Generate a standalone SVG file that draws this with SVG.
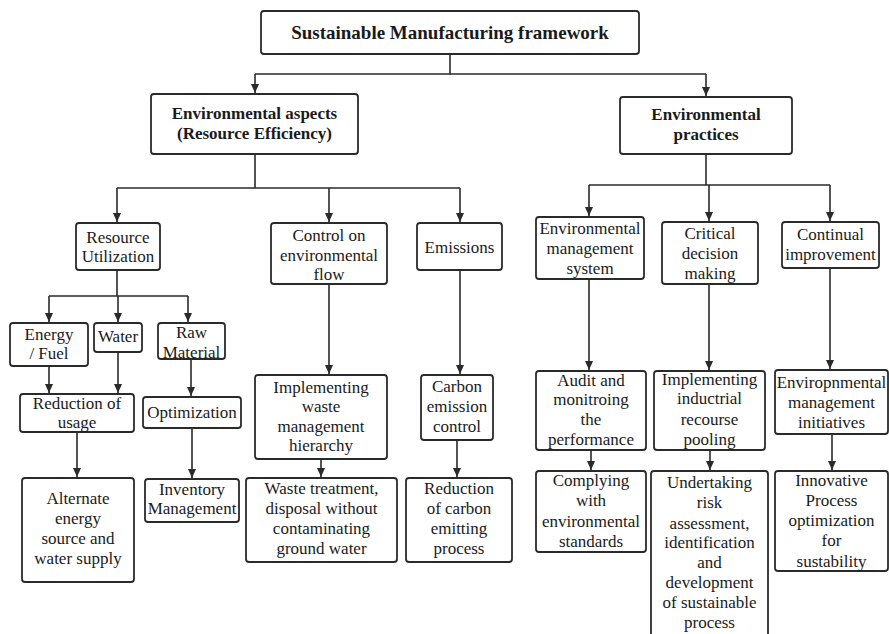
<svg xmlns="http://www.w3.org/2000/svg" width="889" height="634" viewBox="0 0 889 634">
  <style>
    .box { fill: #ffffff; stroke: #2a2a2a; stroke-width: 1.8; }
    .t { font-family: "Liberation Serif", "Times New Roman", serif; font-size: 17px; fill: #1a1a1a; text-anchor: middle; }
    .b { font-weight: bold; }
    .t19 { font-size: 19px; }
    .link { fill: none; stroke: #2a2a2a; stroke-width: 1.6; marker-end: url(#arrow); }
    .line { fill: none; stroke: #2a2a2a; stroke-width: 1.6; }
  </style>
  <defs>
    <marker id="arrow" markerUnits="userSpaceOnUse" markerWidth="8" markerHeight="9" viewBox="0 0 8 9" refX="4" refY="9" orient="auto-start-reverse">
      <path d="M0,0 L8,0 L4,9 Z" fill="#2a2a2a" transform="rotate(-90 4 4.5) translate(0 0)"/>
    </marker>
    <marker id="down" markerUnits="userSpaceOnUse" markerWidth="8" markerHeight="9" viewBox="0 0 8 9" refX="4" refY="9" orient="0">
      <path d="M0,0 L8,0 L4,9 Z" fill="#2a2a2a"/>
    </marker>
  </defs>

  <!-- connectors -->
  <g id="connectors">
    <path class="line" d="M450,54 V74 H255"/>
    <path class="line" d="M450,74 H706"/>
    <path class="line" d="M255,74 V93" marker-end="url(#down)"/>
    <path class="line" d="M706,74 V96" marker-end="url(#down)"/>

    <path class="line" d="M255,154 V188 M117,188 H460"/>
    <path class="line" d="M117,188 V222" marker-end="url(#down)"/>
    <path class="line" d="M329,188 V222" marker-end="url(#down)"/>
    <path class="line" d="M460,188 V222" marker-end="url(#down)"/>

    <path class="line" d="M706,154 V185 M589,185 H830"/>
    <path class="line" d="M589,185 V216" marker-end="url(#down)"/>
    <path class="line" d="M709,185 V221" marker-end="url(#down)"/>
    <path class="line" d="M830,185 V221" marker-end="url(#down)"/>

    <path class="line" d="M117,270 V296 M49,296 H188"/>
    <path class="line" d="M49,296 V322" marker-end="url(#down)"/>
    <path class="line" d="M118,296 V322" marker-end="url(#down)"/>
    <path class="line" d="M188,296 V322" marker-end="url(#down)"/>

    <path class="line" d="M49,366 V393" marker-end="url(#down)"/>
    <path class="line" d="M118,352 V393" marker-end="url(#down)"/>
    <path class="line" d="M191,359 V396" marker-end="url(#down)"/>
    <path class="line" d="M77,432 V477" marker-end="url(#down)"/>
    <path class="line" d="M192,428 V478" marker-end="url(#down)"/>

    <path class="line" d="M329,284 V374" marker-end="url(#down)"/>
    <path class="line" d="M321,459 V477" marker-end="url(#down)"/>
    <path class="line" d="M460,270 V374" marker-end="url(#down)"/>
    <path class="line" d="M457,440 V477" marker-end="url(#down)"/>

    <path class="line" d="M589,279 V370" marker-end="url(#down)"/>
    <path class="line" d="M591,450 V470" marker-end="url(#down)"/>
    <path class="line" d="M709,284 V370" marker-end="url(#down)"/>
    <path class="line" d="M710,450 V470" marker-end="url(#down)"/>
    <path class="line" d="M830,268 V369" marker-end="url(#down)"/>
    <path class="line" d="M832,434 V470" marker-end="url(#down)"/>
  </g>

  <!-- top level -->
  <g id="framework">
    <rect class="box" x="261" y="11" width="378" height="43" rx="3"/>
    <text class="t b t19" x="450" y="39">Sustainable Manufacturing framework</text>
  </g>

  <g id="env-aspects">
    <rect class="box" x="151" y="94" width="207" height="60" rx="3"/>
    <text class="t b" x="254.5" y="119">Environmental aspects</text>
    <text class="t b" x="254.5" y="139">(Resource Efficiency)</text>
  </g>

  <g id="env-practices">
    <rect class="box" x="620" y="97" width="172" height="57" rx="3"/>
    <text class="t b" x="706" y="120">Environmental</text>
    <text class="t b" x="706" y="140">practices</text>
  </g>

  <!-- resource efficiency branch -->
  <g id="resource-utilization">
    <rect class="box" x="76" y="223" width="84" height="47" rx="3"/>
    <text class="t" x="118" y="243">Resource</text>
    <text class="t" x="118" y="262">Utilization</text>
  </g>

  <g id="control-flow">
    <rect class="box" x="271" y="223" width="116" height="61" rx="3"/>
    <text class="t" x="329" y="241">Control on</text>
    <text class="t" x="329" y="261">environmental</text>
    <text class="t" x="329" y="280">flow</text>
  </g>

  <g id="emissions">
    <rect class="box" x="417" y="223" width="85" height="47" rx="3"/>
    <text class="t" x="459.5" y="253">Emissions</text>
  </g>

  <g id="energy-fuel">
    <rect class="box" x="10" y="323" width="78" height="43" rx="3"/>
    <text class="t" x="49" y="340">Energy</text>
    <text class="t" x="49" y="359">/ Fuel</text>
  </g>

  <g id="water">
    <rect class="box" x="94" y="323" width="48" height="29" rx="3"/>
    <text class="t" x="118" y="342">Water</text>
  </g>

  <g id="raw-material">
    <rect class="box" x="158" y="323" width="67" height="36" rx="3"/>
    <text class="t" x="191.5" y="338">Raw</text>
    <text class="t" x="191.5" y="358">Material</text>
  </g>

  <g id="reduction-usage">
    <rect class="box" x="20" y="394" width="114" height="38" rx="3"/>
    <text class="t" x="77" y="409">Reduction of</text>
    <text class="t" x="77" y="428">usage</text>
  </g>

  <g id="optimization">
    <rect class="box" x="143" y="397" width="98" height="31" rx="3"/>
    <text class="t" x="192" y="418">Optimization</text>
  </g>

  <g id="alternate-energy">
    <rect class="box" x="22" y="478" width="112" height="104" rx="3"/>
    <text class="t" x="78" y="504">Alternate</text>
    <text class="t" x="78" y="524">energy</text>
    <text class="t" x="78" y="544">source and</text>
    <text class="t" x="78" y="564">water supply</text>
  </g>

  <g id="inventory">
    <rect class="box" x="145" y="479" width="94" height="43" rx="3"/>
    <text class="t" x="192" y="495">Inventory</text>
    <text class="t" x="192" y="514">Management</text>
  </g>

  <g id="waste-hierarchy">
    <rect class="box" x="255" y="375" width="132" height="84" rx="3"/>
    <text class="t" x="321" y="393">Implementing</text>
    <text class="t" x="321" y="412">waste</text>
    <text class="t" x="321" y="432">management</text>
    <text class="t" x="321" y="451">hierarchy</text>
  </g>

  <g id="waste-treatment">
    <rect class="box" x="246" y="478" width="151" height="84" rx="3"/>
    <text class="t" x="321.5" y="494">Waste treatment,</text>
    <text class="t" x="321.5" y="514">disposal without</text>
    <text class="t" x="321.5" y="534">contaminating</text>
    <text class="t" x="321.5" y="554">ground water</text>
  </g>

  <g id="carbon-control">
    <rect class="box" x="421" y="375" width="72" height="65" rx="3"/>
    <text class="t" x="457" y="392">Carbon</text>
    <text class="t" x="457" y="412">emission</text>
    <text class="t" x="457" y="432">control</text>
  </g>

  <g id="carbon-reduction">
    <rect class="box" x="406" y="478" width="106" height="84" rx="3"/>
    <text class="t" x="459" y="494">Reduction</text>
    <text class="t" x="459" y="514">of carbon</text>
    <text class="t" x="459" y="534">emitting</text>
    <text class="t" x="459" y="554">process</text>
  </g>

  <!-- practices branch -->
  <g id="ems">
    <rect class="box" x="536" y="217" width="108" height="62" rx="3"/>
    <text class="t" x="590" y="234">Environmental</text>
    <text class="t" x="590" y="254">management</text>
    <text class="t" x="590" y="274">system</text>
  </g>

  <g id="critical-decision">
    <rect class="box" x="662" y="222" width="96" height="62" rx="3"/>
    <text class="t" x="710" y="239">Critical</text>
    <text class="t" x="710" y="259">decision</text>
    <text class="t" x="710" y="279">making</text>
  </g>

  <g id="continual-improvement">
    <rect class="box" x="782" y="222" width="97" height="46" rx="3"/>
    <text class="t" x="830.5" y="240">Continual</text>
    <text class="t" x="830.5" y="260">improvement</text>
  </g>

  <g id="audit">
    <rect class="box" x="536" y="371" width="110" height="79" rx="3"/>
    <text class="t" x="591" y="386">Audit and</text>
    <text class="t" x="591" y="405">monitroing</text>
    <text class="t" x="591" y="425">the</text>
    <text class="t" x="591" y="445">performance</text>
  </g>

  <g id="complying">
    <rect class="box" x="536" y="471" width="110" height="81" rx="3"/>
    <text class="t" x="591" y="486">Complying</text>
    <text class="t" x="591" y="506">with</text>
    <text class="t" x="591" y="527">environmental</text>
    <text class="t" x="591" y="547">standards</text>
  </g>

  <g id="resource-pooling">
    <rect class="box" x="654" y="371" width="111" height="79" rx="3"/>
    <text class="t" x="709.5" y="385">Implementing</text>
    <text class="t" x="709.5" y="404">inductrial</text>
    <text class="t" x="709.5" y="425">recourse</text>
    <text class="t" x="709.5" y="445">pooling</text>
  </g>

  <g id="risk-assessment">
    <rect class="box" x="651" y="471" width="117" height="180" rx="3"/>
    <text class="t" x="709.5" y="488">Undertaking</text>
    <text class="t" x="709.5" y="508">risk</text>
    <text class="t" x="709.5" y="529">assessment,</text>
    <text class="t" x="709.5" y="548">identification</text>
    <text class="t" x="709.5" y="568">and</text>
    <text class="t" x="709.5" y="588">development</text>
    <text class="t" x="709.5" y="608">of sustainable</text>
    <text class="t" x="709.5" y="628">process</text>
  </g>

  <g id="em-initiatives">
    <rect class="box" x="775" y="370" width="113" height="64" rx="3"/>
    <text class="t" x="831.5" y="388">Enviropnmental</text>
    <text class="t" x="831.5" y="408">management</text>
    <text class="t" x="831.5" y="428">initiatives</text>
  </g>

  <g id="innovative-process">
    <rect class="box" x="775" y="471" width="113" height="100" rx="3"/>
    <text class="t" x="831.5" y="486">Innovative</text>
    <text class="t" x="831.5" y="506">Process</text>
    <text class="t" x="831.5" y="526">optimization</text>
    <text class="t" x="831.5" y="546">for</text>
    <text class="t" x="831.5" y="567">sustability</text>
  </g>
</svg>
